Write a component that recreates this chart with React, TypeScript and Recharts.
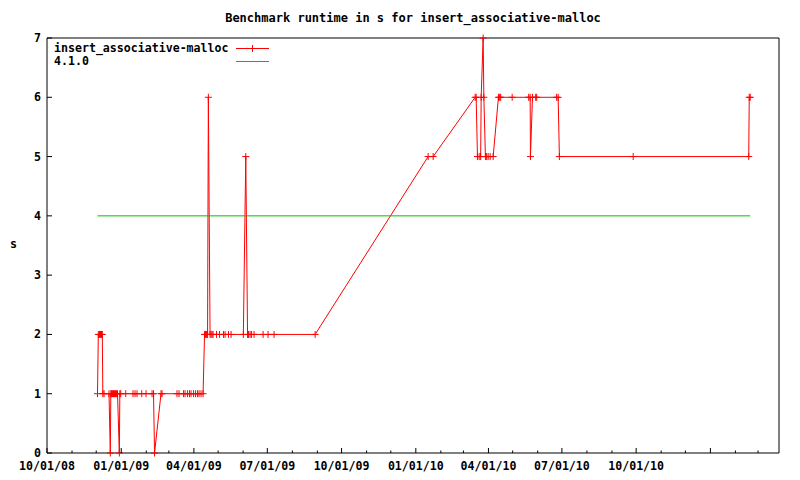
import React from 'react';
import { LineChart, Line, XAxis, YAxis } from 'recharts';

const TITLE = 'Benchmark runtime in s for insert_associative-malloc';
const SERIES_NAME = 'insert_associative-malloc';
const VERSION_NAME = '4.1.0';

const runDates = [
  '2008-12-02 14:00', '2008-12-03 14:00', '2008-12-05 02:00', '2008-12-06 07:00', '2008-12-07 13:00',
  '2008-12-08 13:00', '2008-12-09 04:00', '2008-12-10 16:00', '2008-12-16 20:00', '2008-12-18 11:00',
  '2008-12-19 02:00', '2008-12-19 23:00', '2008-12-21 05:00', '2008-12-22 10:00', '2008-12-23 16:00',
  '2008-12-24 22:00', '2008-12-26 04:00', '2008-12-27 09:00', '2008-12-29 15:00', '2008-12-30 06:00',
  '2008-12-31 08:00', '2009-01-06 13:00', '2009-01-15 14:00', '2009-01-18 02:00', '2009-01-20 13:00',
  '2009-01-26 09:00', '2009-01-31 17:00', '2009-02-08 04:00', '2009-02-10 00:00', '2009-02-11 06:00',
  '2009-02-19 07:00', '2009-02-20 13:00', '2009-03-11 02:00', '2009-03-13 14:00', '2009-03-19 05:00',
  '2009-03-21 01:00', '2009-03-24 04:00', '2009-03-26 15:00', '2009-03-28 12:00', '2009-03-31 14:00',
  '2009-04-03 02:00', '2009-04-05 13:00', '2009-04-07 10:00', '2009-04-09 21:00', '2009-04-12 09:00',
  '2009-04-14 05:00', '2009-04-15 11:00', '2009-04-16 17:00', '2009-04-17 23:00', '2009-04-18 22:00',
  '2009-04-21 01:00', '2009-04-22 07:00', '2009-04-23 12:00', '2009-04-24 18:00', '2009-04-29 02:00',
  '2009-05-02 19:00', '2009-05-07 18:00', '2009-05-09 15:00', '2009-05-13 23:00', '2009-05-17 02:00',
  '2009-06-01 07:00', '2009-06-04 07:00', '2009-06-06 12:00', '2009-06-07 18:00', '2009-06-09 15:00',
  '2009-06-11 12:00', '2009-06-14 14:00', '2009-06-25 18:00', '2009-07-01 22:00', '2009-07-09 09:00',
  '2009-08-29 05:00', '2010-01-16 06:00', '2010-01-22 11:00', '2010-03-15 12:00', '2010-03-16 18:00',
  '2010-03-18 09:00', '2010-03-20 11:00', '2010-03-22 08:00', '2010-03-22 23:00', '2010-03-25 10:00',
  '2010-03-26 07:00', '2010-03-28 06:00', '2010-03-29 18:00', '2010-03-31 15:00', '2010-04-03 02:00',
  '2010-04-06 20:00', '2010-04-13 09:00', '2010-04-14 21:00', '2010-04-16 03:00', '2010-04-30 09:00',
  '2010-05-20 20:00', '2010-05-22 16:00', '2010-05-23 01:00', '2010-05-25 13:00', '2010-05-29 12:00',
  '2010-05-30 18:00', '2010-06-24 12:00', '2010-06-26 09:00', '2010-06-27 21:00', '2010-09-27 08:00',
  '2011-02-17 12:00', '2011-02-18 03:00', '2011-02-19 09:00',
];

const runSeconds = [
  1, 2, 2, 2, 2,
  2, 1, 1, 1, 0,
  1, 1, 1, 1, 1,
  1, 1, 1, 0, 1,
  1, 1, 1, 1, 1,
  1, 1, 1, 1, 0,
  1, 1, 1, 1, 1,
  1, 1, 1, 1, 1,
  1, 1, 1, 1, 1,
  2, 2, 2, 2, 6,
  2, 2, 2, 2, 2,
  2, 2, 2, 2, 2,
  2, 5, 2, 2, 2,
  2, 2, 2, 2, 2,
  2, 5, 5, 6, 6,
  5, 5, 5, 6, 7,
  6, 5, 5, 5, 5,
  5, 6, 6, 6, 6,
  6, 6, 5, 6, 6,
  6, 6, 6, 5, 5,
  5, 6, 6,
];

const versionDates = ['2008-12-02 14:00', '2011-02-19 09:00'];
const versionSeconds = [4, 4];

const axisStart = '2008-10-01 00:00';
const axisEnd = '2011-03-27 00:00';
const yTicks = [0, 1, 2, 3, 4, 5, 6, 7];

const toTime = (s: string) => {
  const [d, t] = s.split(' ');
  const [y, m, day] = d.split('-').map(Number);
  const [h, mi] = t.split(':').map(Number);
  return Date.UTC(y, m - 1, day, h, mi);
};

const runData = runDates.map((d, i) => ({ t: toTime(d), v: runSeconds[i] }));
const versionData = versionDates.map((d, i) => ({ t: toTime(d), v: versionSeconds[i] }));

// monthly ticks, the quarterly ones are major
const monthTicks: number[] = [];
for (let y = 2008, m = 9; Date.UTC(y, m, 1) <= toTime(axisEnd); ) {
  monthTicks.push(Date.UTC(y, m, 1));
  m++;
  if (m > 11) { m = 0; y++; }
}
const lastLabel = Date.UTC(2010, 9, 1);

const isMajor = (t: number) => new Date(t).getUTCMonth() % 3 === 0;
const fmt = (t: number) => {
  const d = new Date(t);
  const p = (n: number) => String(n).padStart(2, '0');
  return `${p(d.getUTCMonth() + 1)}/${p(d.getUTCDate())}/${p(d.getUTCFullYear() % 100)}`;
};

const FONT = '"DejaVu Sans Mono", "Liberation Mono", monospace';
const RED = '#ff0000';
const GREEN = '#00c000';

const BottomTick = (props: any) => {
  const { x, y, payload } = props;
  const major = isMajor(payload.value);
  return (
    <g>
      <line x1={x} x2={x} y1={y} y2={y - (major ? 5 : 2.5)} stroke="#000" />
      {major && payload.value <= lastLabel && (
        <text x={x} y={y + 17} textAnchor="middle" fontFamily={FONT} fontWeight="bold" fontSize={11.6} fill="#000">
          {fmt(payload.value)}
        </text>
      )}
    </g>
  );
};

const TopTick = (props: any) => {
  const { x, y, payload } = props;
  const major = isMajor(payload.value);
  return <line x1={x} x2={x} y1={y} y2={y + (major ? 5 : 2.5)} stroke="#000" />;
};

const LeftTick = (props: any) => {
  const { x, y, payload } = props;
  return (
    <g>
      <line x1={x} x2={x + 5} y1={y} y2={y} stroke="#000" />
      <text x={x - 6} y={y + 4} textAnchor="end" fontFamily={FONT} fontWeight="bold" fontSize={11.6} fill="#000">
        {payload.value}
      </text>
    </g>
  );
};

const RightTick = (props: any) => {
  const { x, y } = props;
  return <line x1={x} x2={x - 5} y1={y} y2={y} stroke="#000" />;
};

const PlusDot = (props: any) => {
  const { cx, cy, index } = props;
  if (cx == null || cy == null) return <g key={`p-${index}`} />;
  return (
    <path key={`p-${index}`} d={`M${cx - 3.5},${cy}H${cx + 3.5}M${cx},${cy - 3.5}V${cy + 3.5}`} stroke={RED} strokeWidth={1} fill="none" />
  );
};

const LegendBox = () => (
  <div style={{ fontFamily: FONT, fontWeight: 'bold', fontSize: 11.6, lineHeight: '13px', color: '#000' }}>
    {[
      { name: SERIES_NAME, color: RED, plus: true },
      { name: VERSION_NAME, color: GREEN, plus: false },
    ].map((it) => (
      <div key={it.name} style={{ display: 'flex', alignItems: 'center', height: 13 }}>
        <span style={{ width: 182 }}>{it.name}</span>
        <svg width={34} height={13}>
          <line x1={0} x2={33} y1={6.5} y2={6.5} stroke={it.color} />
          {it.plus && <path d="M16.5,3V10" stroke={it.color} />}
        </svg>
      </div>
    ))}
  </div>
);

export default function App() {
  const domain = [toTime(axisStart), toTime(axisEnd)];
  return (
    <div style={{ position: 'relative', width: 800, height: 480, background: '#fff' }}>
      <style>{'body{margin:0}'}</style>
      <LineChart width={800} height={480} margin={{ top: 0, right: 0, bottom: 0, left: 0 }}>
        <XAxis
          xAxisId="bottom"
          dataKey="t"
          type="number"
          domain={domain}
          ticks={monthTicks}
          interval={0}
          height={27}
          tickSize={0}
          tickMargin={0}
          tickLine={false}
          axisLine={{ stroke: '#000' }}
          tick={<BottomTick />}
        />
        <XAxis
          xAxisId="top"
          orientation="top"
          dataKey="t"
          type="number"
          domain={domain}
          ticks={monthTicks}
          interval={0}
          height={38}
          tickSize={0}
          tickMargin={0}
          tickLine={false}
          axisLine={{ stroke: '#000' }}
          tick={<TopTick />}
        />
        <YAxis
          yAxisId="left"
          type="number"
          domain={[0, 7]}
          ticks={yTicks}
          interval={0}
          width={47}
          tickSize={0}
          tickMargin={0}
          tickLine={false}
          axisLine={{ stroke: '#000' }}
          tick={<LeftTick />}
        />
        <YAxis
          yAxisId="right"
          orientation="right"
          type="number"
          domain={[0, 7]}
          ticks={yTicks}
          interval={0}
          width={21}
          tickSize={0}
          tickMargin={0}
          tickLine={false}
          axisLine={{ stroke: '#000' }}
          tick={<RightTick />}
        />
        <Line
          xAxisId="bottom"
          yAxisId="left"
          data={runData}
          dataKey="v"
          name={SERIES_NAME}
          type="linear"
          stroke={RED}
          strokeWidth={1}
          dot={<PlusDot />}
          activeDot={false}
          isAnimationActive={false}
        />
        <Line
          xAxisId="bottom"
          yAxisId="left"
          data={versionData}
          dataKey="v"
          name={VERSION_NAME}
          type="linear"
          stroke={GREEN}
          strokeWidth={1}
          dot={false}
          activeDot={false}
          isAnimationActive={false}
        />
      </LineChart>
      <div style={{ position: 'absolute', top: 42, left: 54, pointerEvents: 'none' }}>
        <LegendBox />
      </div>
      <div
        style={{
          position: 'absolute',
          top: 11,
          left: 0,
          width: 826,
          textAlign: 'center',
          fontFamily: FONT,
          fontWeight: 'bold',
          fontSize: 12,
          color: '#000',
          pointerEvents: 'none',
        }}
      >
        {TITLE}
      </div>
      <div
        style={{
          position: 'absolute',
          top: 237,
          left: 10,
          fontFamily: FONT,
          fontWeight: 'bold',
          fontSize: 11.6,
          color: '#000',
        }}
      >
        s
      </div>
    </div>
  );
}
